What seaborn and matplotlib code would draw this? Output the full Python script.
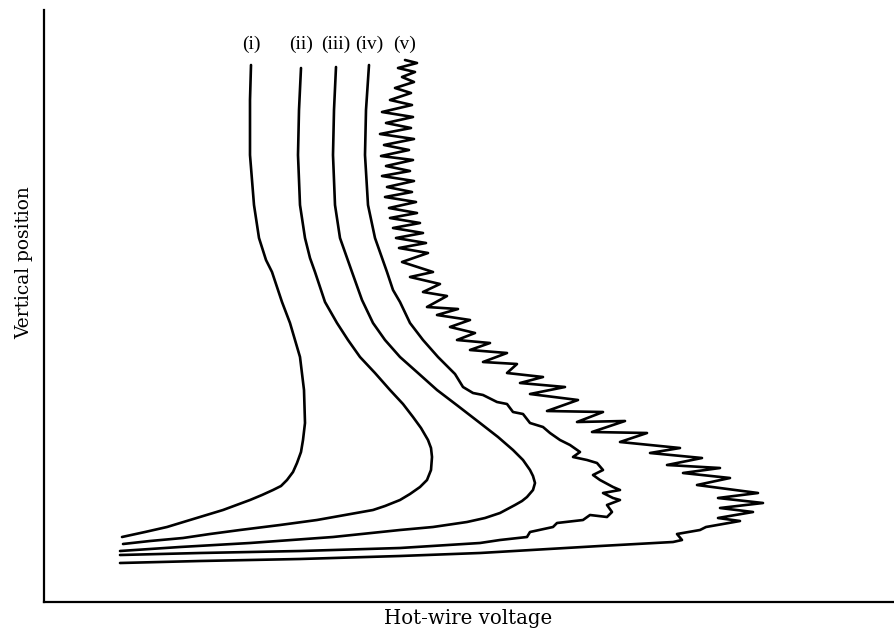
import matplotlib
matplotlib.use("Agg")
import matplotlib.pyplot as plt
import numpy as np
import pandas as pd
import seaborn as sns

# Hot-wire traces: voltage (arbitrary units) against vertical position (arbitrary units)
curve_names = ["(i)", "(ii)", "(iii)", "(iv)", "(v)"]

volt_i = [207, 206, 206, 210, 215, 222, 228, 238, 246, 256, 260, 261, 259, 257,
          253, 249, 243, 237, 229, 218, 206, 179, 146, 123, 101, 78]
pos_i = [537, 502, 447, 397, 364, 342, 330, 300, 279, 245, 212, 179, 162, 150,
         139, 130, 122, 116, 112, 107, 102, 92, 82, 75, 70, 65]

volt_ii = [257, 255, 254, 256, 261, 266, 271, 281, 293, 304, 316, 331, 346, 359,
           369, 377, 384, 387, 388, 387, 383, 376, 366, 356, 341, 329, 301, 273,
           236, 196, 166, 139, 106, 79]
pos_ii = [534, 492, 447, 397, 364, 344, 330, 300, 279, 262, 245, 229, 212, 198,
          185, 174, 162, 154, 145, 132, 122, 115, 108, 102, 96, 92, 87, 82,
          77, 72, 68, 64, 61, 58]

volt_iii = [292, 290, 289, 291, 296, 308, 318, 329, 341, 356, 374, 393, 414, 436,
            454, 469, 479, 486, 489, 491, 489, 483, 478, 471, 456, 441, 423, 389,
            356, 289, 206, 136, 76]
pos_iii = [535, 492, 447, 397, 364, 330, 302, 279, 262, 245, 229, 212, 196, 179,
           165, 152, 142, 132, 126, 119, 112, 105, 101, 97, 89, 84, 80, 75,
           72, 65, 59, 55, 51]

volt_iv = [325, 322, 321, 324, 331, 343, 349, 356, 366, 379, 394, 411, 419, 429,
           439, 453, 463, 469, 479, 486, 499, 506, 516, 526, 536, 529, 543, 553,
           559, 549, 556, 569, 576, 559, 569, 576, 563, 568, 563, 546, 539, 513,
           509, 486, 483, 456, 436, 356, 256, 156, 76]
pos_iv = [537, 492, 447, 397, 364, 330, 312, 300, 279, 262, 245, 228, 215, 209,
          207, 200, 198, 190, 188, 179, 175, 169, 162, 157, 150, 145, 142, 139,
          132, 127, 122, 115, 112, 109, 104, 102, 97, 90, 85, 87, 82, 79,
          75, 70, 65, 62, 59, 54, 51, 49, 47]

volt_v = [361, 373, 354, 371, 358, 370, 351, 367, 346, 368, 338, 369, 342, 367,
          336, 370, 340, 365, 337, 369, 342, 366, 338, 370, 343, 368, 341, 372,
          345, 373, 346, 376, 349, 379, 352, 382, 355, 384, 358, 389, 366, 396,
          379, 403, 383, 414, 393, 426, 406, 431, 413, 446, 426, 463, 439, 473,
          463, 499, 476, 521, 486, 534, 503, 559, 533, 581, 548, 603, 576, 636,
          606, 658, 623, 676, 639, 686, 653, 714, 674, 719, 676, 709, 674, 696,
          662, 656, 633, 638, 629, 556, 436, 356, 256, 156, 76]
pos_v = [542, 539, 534, 530, 525, 520, 514, 509, 502, 497, 490, 485, 479, 474,
         468, 463, 457, 452, 446, 442, 436, 431, 426, 421, 415, 410, 405, 400,
         394, 389, 384, 379, 374, 369, 364, 359, 354, 349, 340, 330, 325, 318,
         310, 306, 295, 293, 287, 282, 275, 269, 262, 259, 252, 249, 240, 238,
         229, 225, 219, 215, 208, 202, 191, 190, 180, 181, 170, 169, 160, 154,
         149, 144, 137, 134, 129, 124, 117, 109, 104, 99, 94, 90, 84, 81,
         75, 72, 68, 62, 60, 56, 49, 46, 43, 41, 39]

label_height = 558

traces = [(volt_i, pos_i), (volt_ii, pos_ii), (volt_iii, pos_iii),
          (volt_iv, pos_iv), (volt_v, pos_v)]

frames = []
for name, (v, p) in zip(curve_names, traces):
    frames.append(pd.DataFrame({"curve": name, "voltage": v, "position": p,
                                "order": np.arange(len(v))}))
df = pd.concat(frames, ignore_index=True)

sns.set_style("white")
plt.rcParams["font.family"] = ["DejaVu Serif"]

fig = plt.figure(figsize=(8.95, 6.4), dpi=100)
ax = fig.add_axes([44 / 895, 38 / 640, 851 / 895, 592 / 640])

for name in curve_names:
    sub = df[df["curve"] == name]
    line_ax = sns.lineplot(data=sub, x="voltage", y="position", sort=False,
                           estimator=None, color="black", linewidth=1.9, ax=ax,
                           legend=False)
    line_ax.lines[-1].set_solid_joinstyle("round")
    line_ax.lines[-1].set_solid_capstyle("round")
    top = sub.iloc[0]
    ax.text(top["voltage"], label_height, name, ha="center", va="center",
            fontsize=14, family=["Liberation Serif"], color="black")

ax.set_xlim(0, 851)
ax.set_ylim(0, 592)
ax.set_xticks([])
ax.set_yticks([])
sns.despine(ax=ax)
for side in ["left", "bottom"]:
    ax.spines[side].set_linewidth(1.6)
    ax.spines[side].set_color("black")

ax.set_xlabel("Hot-wire voltage", fontsize=14.2, color="black")
ax.set_ylabel("Vertical position", fontsize=13.4, color="black")
ax.xaxis.set_label_coords(0.498, -0.012)
ax.yaxis.set_label_coords(-0.013, 0.574)
ax.xaxis.label.set_va("top")

fig.savefig("out.png", dpi=100)
